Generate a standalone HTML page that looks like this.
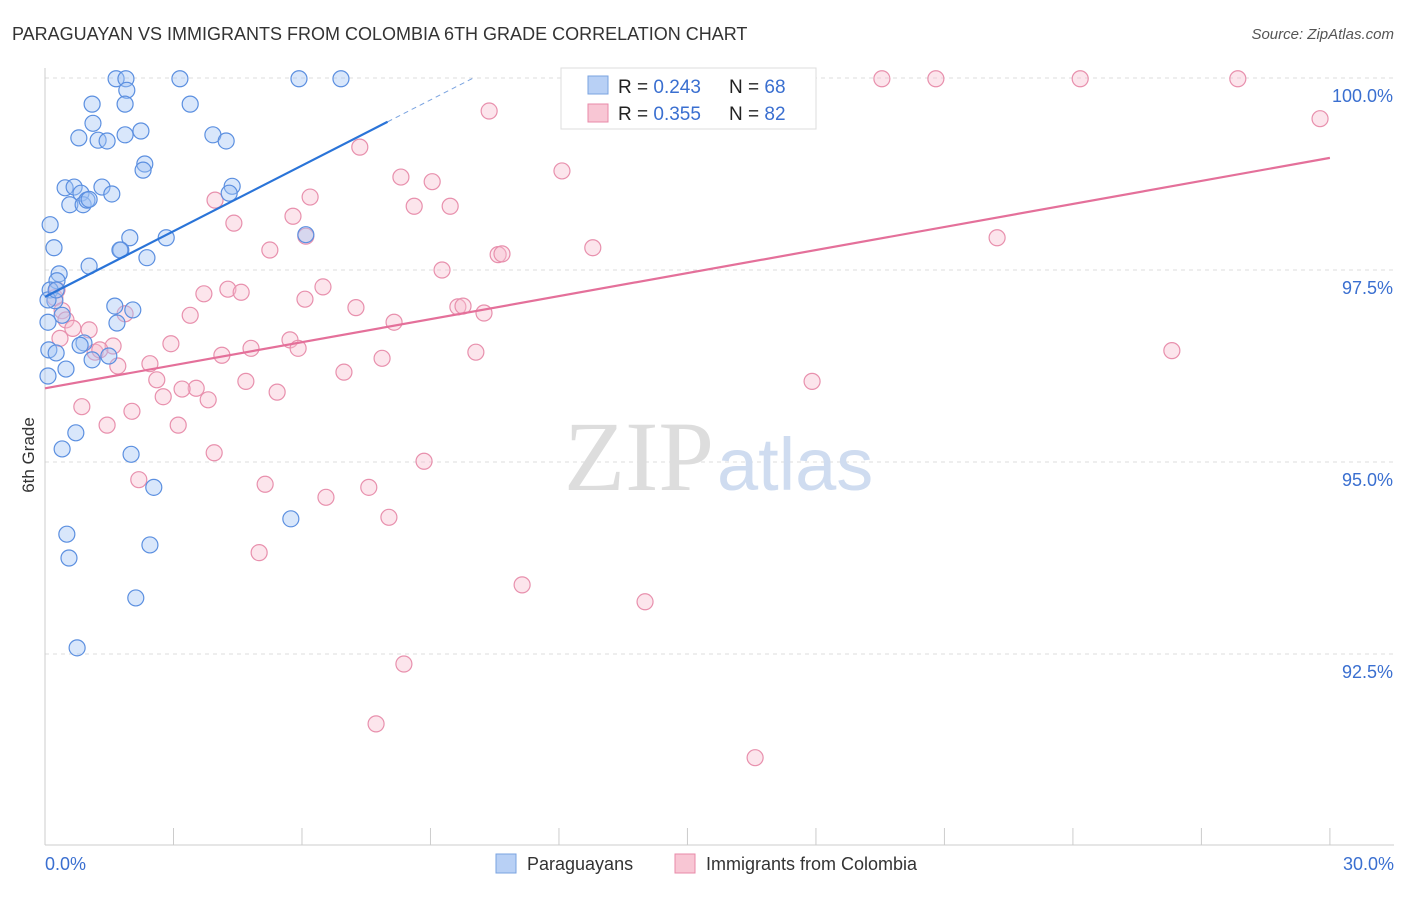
<!DOCTYPE html>
<html><head><meta charset="utf-8"><style>
body{margin:0;background:#fff;font-family:"Liberation Sans",sans-serif;}
</style></head><body>
<svg width="1406" height="892" xmlns="http://www.w3.org/2000/svg" font-family="Liberation Sans, sans-serif">
<text x="12" y="40" font-size="18" fill="#333">PARAGUAYAN VS IMMIGRANTS FROM COLOMBIA 6TH GRADE CORRELATION CHART</text>
<text x="1394" y="39" font-size="15" fill="#555" text-anchor="end" font-style="italic">Source: ZipAtlas.com</text>
<g id="grid"></g>
<text x="714" y="490" font-size="100" fill="#ddd" text-anchor="end" font-family="Liberation Serif, serif">ZIP</text>
<text x="717" y="490" font-size="74" fill="#cfdcf0">atlas</text>
<g id="marks"></g>
<text transform="translate(34,455) rotate(-90)" font-size="17" fill="#333" text-anchor="middle">6th Grade</text>
<g>
<rect x="561" y="68" width="255" height="61" fill="#fff" stroke="#ddd"/>
<rect x="588" y="76" width="20" height="18" fill="#b8d0f5" stroke="#7aa3e0"/>
<rect x="588" y="104" width="20" height="18" fill="#f8c6d4" stroke="#e88aa8"/>
<text x="618" y="93" font-size="19" fill="#222">R = <tspan fill="#3a6fd0">0.243</tspan></text>
<text x="729" y="93" font-size="19" fill="#222">N = <tspan fill="#3a6fd0">68</tspan></text>
<text x="618" y="120" font-size="19" fill="#222">R = <tspan fill="#3a6fd0">0.355</tspan></text>
<text x="729" y="120" font-size="19" fill="#222">N = <tspan fill="#3a6fd0">82</tspan></text>
</g>
<g>
<rect x="496" y="854" width="20" height="19" fill="#b8d0f5" stroke="#7aa3e0"/>
<text x="527" y="870" font-size="18" fill="#333">Paraguayans</text>
<rect x="675" y="854" width="20" height="19" fill="#f8c6d4" stroke="#e88aa8"/>
<text x="706" y="870" font-size="18" fill="#333">Immigrants from Colombia</text>
</g>
</svg>
<script>
const yTicks=[100,97.5,95,92.5];
const yTickLabels=["100.0%","97.5%","95.0%","92.5%"];
const xTicks=[0,3,6,9,12,15,18,21,24,27,30];
const blueX=[1.66,1.89,3.15,5.93,6.91,1.91,1.10,1.87,3.39,1.12,0.79,1.24,1.45,1.87,2.24,3.92,4.23,2.33,2.29,0.47,0.68,1.33,0.84,0.58,0.89,0.98,1.03,1.56,4.37,4.30,0.12,0.21,1.98,1.77,2.83,6.09,2.38,1.03,0.33,0.28,0.12,0.23,1.63,2.05,0.40,1.68,0.07,0.91,0.09,0.26,1.49,1.10,0.49,0.07,0.72,0.40,2.01,2.54,5.74,0.51,0.56,2.45,2.12,0.75,0.07,0.26,0.82,1.75];
const blueY=[99.99,99.99,99.99,99.99,99.99,99.84,99.66,99.66,99.66,99.41,99.22,99.19,99.18,99.26,99.31,99.26,99.18,98.88,98.80,98.57,98.58,98.58,98.50,98.35,98.35,98.41,98.42,98.49,98.59,98.50,98.09,97.79,97.92,97.76,97.92,97.96,97.66,97.55,97.45,97.36,97.24,97.10,97.03,96.98,96.91,96.81,96.82,96.55,96.46,96.42,96.38,96.33,96.21,96.12,95.38,95.17,95.10,94.67,94.26,94.06,93.75,93.92,93.23,92.58,97.11,97.24,96.52,97.76];
const pinkX=[13.82,19.54,20.80,24.17,27.85,10.37,29.77,7.35,12.07,8.31,9.04,6.19,8.62,9.46,5.79,4.41,5.25,6.09,10.58,10.67,12.79,22.23,9.27,6.49,4.27,4.58,3.71,6.07,7.26,9.64,9.76,10.25,8.15,3.39,5.72,5.91,4.81,4.13,2.94,7.87,10.06,26.31,6.98,2.45,2.61,4.69,3.53,3.20,5.42,3.81,2.76,2.03,17.91,0.86,1.45,3.11,3.95,8.85,2.19,5.14,6.56,7.56,8.03,5.00,11.14,14.01,8.38,7.73,16.58,0.23,0.40,0.49,0.65,1.03,0.35,1.17,1.59,1.70,1.87,0.28,1.28,3.97];
const pinkY=[99.99,99.99,99.99,99.99,99.99,99.57,99.47,99.10,98.79,98.71,98.65,98.45,98.33,98.33,98.20,98.11,97.76,97.94,97.70,97.71,97.79,97.92,97.50,97.28,97.25,97.21,97.19,97.12,97.01,97.02,97.03,96.94,96.82,96.91,96.59,96.48,96.48,96.39,96.54,96.35,96.43,96.45,96.17,96.28,96.07,96.05,95.96,95.95,95.91,95.81,95.85,95.66,96.05,95.72,95.48,95.48,95.12,95.01,94.77,94.71,94.54,94.67,94.28,93.82,93.40,93.18,92.37,91.59,91.15,97.14,96.97,96.85,96.74,96.72,96.61,96.43,96.51,96.25,96.93,97.24,96.46,98.41];
const blueTrend=[97.15,0.285];
const pinkTrend=[95.96,0.1];
const NS="http://www.w3.org/2000/svg";
const xs=v=>45+v*42.83, ys=v=>78+(100-v)*76.8;
function mk(t,a,p){const e=document.createElementNS(NS,t);for(const k in a)e.setAttribute(k,a[k]);p.appendChild(e);return e;}
const g=document.getElementById('grid'),m=document.getElementById('marks');
yTicks.forEach((v,i)=>{
 const l=mk('line',{x1:45,x2:1394,y1:ys(v),y2:ys(v),stroke:'#ddd','stroke-dasharray':'4,4'},g);
 
 
 const t=mk('text',{x:1393,y:ys(v)+24,'font-size':18,fill:'#3a6fd0','text-anchor':'end'},g);
 t.textContent=yTickLabels[i];
 
 
});
const ax=mk('line',{x1:45,x2:1394,y1:845,y2:845,stroke:'#ccc'},g);


const ay=mk('line',{x1:45,x2:45,y1:68,y2:845,stroke:'#ccc'},g);


xTicks.forEach(v=>{const t=mk('line',{x1:xs(v),x2:xs(v),y1:828,y2:845,stroke:'#ccc'},g);
 
 });
[[0,'start','0.0%'],[30,'end','30.0%']].forEach(a=>{const t=mk('text',{x:a[0]==0?45:1394,y:870,'font-size':18,fill:'#3a6fd0','text-anchor':a[1]},g);t.textContent=a[2];
 
 });
function pts(X,Y,f,s,n){X.forEach((x,i)=>{const c=mk('circle',{cx:xs(x),cy:ys(Y[i]),r:8,fill:f,stroke:s,'stroke-width':1.2},m);
 
 });}
pts(pinkX,pinkY,'rgba(248,190,208,0.4)','#e890ad','colombia-point');
pts(blueX,blueY,'rgba(160,195,245,0.4)','#5b8fe0','paraguayan-point');
const b1=mk('line',{x1:xs(0),y1:ys(blueTrend[0]),x2:xs(8),y2:ys(blueTrend[0]+8*blueTrend[1]),stroke:'#2a74d8','stroke-width':2.2},m);


const xe=(100-blueTrend[0])/blueTrend[1];
const b2=mk('line',{x1:xs(8),y1:ys(blueTrend[0]+8*blueTrend[1]),x2:xs(xe),y2:ys(100),stroke:'#7aa3e0','stroke-width':1,'stroke-dasharray':'5,4'},m);


const p1=mk('line',{x1:xs(0),y1:ys(pinkTrend[0]),x2:xs(30),y2:ys(pinkTrend[0]+30*pinkTrend[1]),stroke:'#e4709a','stroke-width':2.2},m);


</script>
</body></html>
